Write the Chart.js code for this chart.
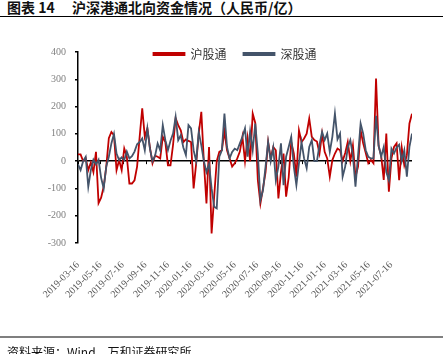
<!DOCTYPE html>
<html>
<head>
<meta charset="utf-8">
<script src="https://cdn.jsdelivr.net/npm/chart.js@4.4.0/dist/chart.umd.min.js"></script>
<style>
    body { margin: 0; width: 443px; height: 354px; overflow: hidden; background: #fff; position: relative;
           font-family: "Noto Sans CJK SC", sans-serif; }
    #title { position: absolute; left: 7px; top: -1px; font-size: 14px; font-weight: bold; line-height: 17px; color: #111; white-space: nowrap; }
    #title .main { position: absolute; left: 65px; top: 0; }
    #rule1 { position: absolute; left: 0; top: 16px; width: 443px; border-top: 1.5px solid #000; }
    #chartBox { position: absolute; left: 0; top: 0; width: 443px; height: 354px; }
    #rule2 { position: absolute; left: 0; top: 336px; width: 443px; border-top: 2px solid #7f7f7f; }
    #source { position: absolute; left: 7px; top: 345px; font-size: 12px; line-height: 14px; color: #111; white-space: nowrap; }
</style>
</head>
<body>
<div id="title"><span>图表 14</span><span class="main">沪深港通北向资金情况（人民币/亿）</span></div>
<div id="rule1"></div>
<div id="chartBox"><canvas id="flowChart" width="443" height="354"></canvas></div>
<div id="rule2"></div>
<div id="source">资料来源：Wind，万和证券研究所</div>

<script>
// weekly northbound flows, first week 2019-03-16
const firstWeek = '2019-03-16';

const shanghaiFlow = [
    25, 25, 0, 10, -33, -5, -40, 34, -154, -134, -94, -20, 84, 107, 95, -33, 4, -33, 46, 16, -82, -82, -70, -20, 89, 194,
    89, 120, 50, -8, 20, 16, 10, 89, 70, -15, -15, 60, 157, 132, 113, 70, 80, 74, 70, -100, -8, 101, 181, -3, -155,
    52, -265, -130, 0, 34, 40, 110, 40, 10, -20, -8, 10, 35, 89, 0, 85, 0, 174, 140, -70, -155, -100, -40, 70, 10, 52,
    40, -137, -40, 28, -130, -60, 70, 28, -57, 113, 70, 83, 101, 156, 89, 77, 72, 28, 101, 34, 10, -57, 4, 28, 46, 40,
    0, 30, 70, 0, 58, -57, -20, 113, 65, 30, -8, 4, -8, 303, 55, 20, -69, 101, -112, 10, 52, 65, -70, 50, -15, 22, 138, 174
];

const shenzhenFlow = [
    -12, -33, 0, 16, -94, -33, 5, -12, 5, -61, -100, -20, 16, 65, 100, 28, 4, 14, 4, 35, 10, 18, 35, 62, 70, 83,
    40, 120, 45, 0, 20, 65, 40, 132, 77, 40, 75, 101, 162, 77, 95, 50, 22, 132, 120, 40, 0, 107, 58, 0, -40,
    -10, -100, -167, -173, 16, 40, 174, 52, 10, 34, 46, 40, 65, 89, 120, 16, 110, 40, 138, 28, -143, -107, -20, 70, 0, 50,
    -70, -20, 65, -88, 16, 52, 89, -20, -88, -8, 70, 10, -26, 52, 77, 0, 0, 60, 107, 77, 101, 34, 89, 174, 80, 101,
    -57, -20, 50, 77, 20, -94, 20, 138, 101, 40, 16, 10, 10, 166, 58, 16, 52, -40, -70, 46, 28, 50, 60, 0, 40, -57, 52, 101
];

const dateTicks = [
    '2019-03-16', '2019-05-16', '2019-07-16', '2019-09-16', '2019-11-16',
    '2020-01-16', '2020-03-16', '2020-05-16', '2020-07-16', '2020-09-16',
    '2020-11-16', '2021-01-16', '2021-03-16', '2021-05-16', '2021-07-16'
];

const yTicks = [-300, -200, -100, 0, 100, 200, 300, 400];

const seriesNames = ['沪股通', '深股通'];

// days since the first week, used by the linear x axis
const DAY = 86400000;
const startMs = Date.parse(firstWeek + 'T00:00:00Z');
const dayOf = s => (Date.parse(s + 'T00:00:00Z') - startMs) / DAY;
const tickDays = dateTicks.map(dayOf);

const toPoints = arr => arr.map((v, i) => ({ x: i * 7, y: v }));

// small tick marks on the zero line, like the original's category axis
const zeroAxisTicks = {
    id: 'zeroAxisTicks',
    beforeDatasetsDraw(chart) {
        const { ctx, scales } = chart;
        const y0 = scales.y.getPixelForValue(0);
        ctx.save();
        ctx.strokeStyle = '#000';
        ctx.lineWidth = 1;
        tickDays.forEach(d => {
            const x = Math.round(scales.x.getPixelForValue(d)) + 0.5;
            ctx.beginPath();
            ctx.moveTo(x, y0);
            ctx.lineTo(x, y0 + 3);
            ctx.stroke();
        });
        ctx.restore();
    }
};

// legend sits over the top edge of the plot, so it should take no layout space
const floatingLegend = {
    id: 'floatingLegend',
    beforeLayout(chart) {
        const lg = chart.legend;
        if (lg && !lg._floating) {
            const fit = lg.fit.bind(lg);
            lg.fit = function () { fit(); this.height = 0; };
            lg._floating = true;
        }
    },
    afterLayout(chart) {
        const lg = chart.legend;
        if (!lg) return;
        lg.top = 31;
        lg.bottom = 75;
        lg.height = 44;
        lg.left += 29;
        lg.right += 29;
    }
};

const serif = '"Liberation Serif", "Times New Roman", serif';

new Chart(document.getElementById('flowChart'), {
    type: 'line',
    data: {
        datasets: [
            {
                label: seriesNames[0],
                data: toPoints(shanghaiFlow),
                borderColor: '#C00000',
                backgroundColor: '#C00000',
                borderWidth: 1.8,
                pointRadius: 0,
                tension: 0,
                order: 1
            },
            {
                label: seriesNames[1],
                data: toPoints(shenzhenFlow),
                borderColor: '#44546A',
                backgroundColor: '#44546A',
                borderWidth: 1.8,
                pointRadius: 0,
                tension: 0,
                order: 0
            }
        ]
    },
    options: {
        responsive: false,
        animation: false,
        layout: { padding: { left: 0, right: 31, top: 52, bottom: 0 } },
        plugins: {
            tooltip: { enabled: false },
            legend: {
                position: 'top',
                align: 'center',
                labels: {
                    boxWidth: 31,
                    boxHeight: 2,
                    padding: 17,
                    color: '#333',
                    font: { family: '"Noto Sans CJK SC", sans-serif', size: 12 },
                    sort: (a, b) => a.datasetIndex - b.datasetIndex
                }
            }
        },
        scales: {
            x: {
                type: 'linear',
                min: 0,
                max: 910,
                grid: { display: false },
                border: { display: false },
                afterBuildTicks: scale => {
                    scale.ticks = tickDays.map(v => ({ value: v }));
                },
                afterFit: scale => { scale.height = 111; },
                ticks: {
                    autoSkip: false,
                    minRotation: 45,
                    maxRotation: 45,
                    padding: 8,
                    color: '#595959',
                    font: { family: serif, size: 10 },
                    callback: (value, index) => dateTicks[index]
                }
            },
            y: {
                min: -300,
                max: 400,
                afterBuildTicks: scale => {
                    scale.ticks = yTicks.map(v => ({ value: v }));
                },
                afterFit: scale => { scale.width = 78; },
                border: { display: true, color: '#000', width: 1.5 },
                grid: {
                    drawOnChartArea: true,
                    color: c => (c.tick && c.tick.value === 0 ? '#000' : 'rgba(0,0,0,0)'),
                    lineWidth: 1.5,
                    tickColor: '#000',
                    tickLength: 3
                },
                ticks: {
                    padding: 9,
                    color: '#808080',
                    font: { family: serif, size: 10 }
                }
            }
        }
    },
    plugins: [zeroAxisTicks, floatingLegend]
});
</script>
</body>
</html>
